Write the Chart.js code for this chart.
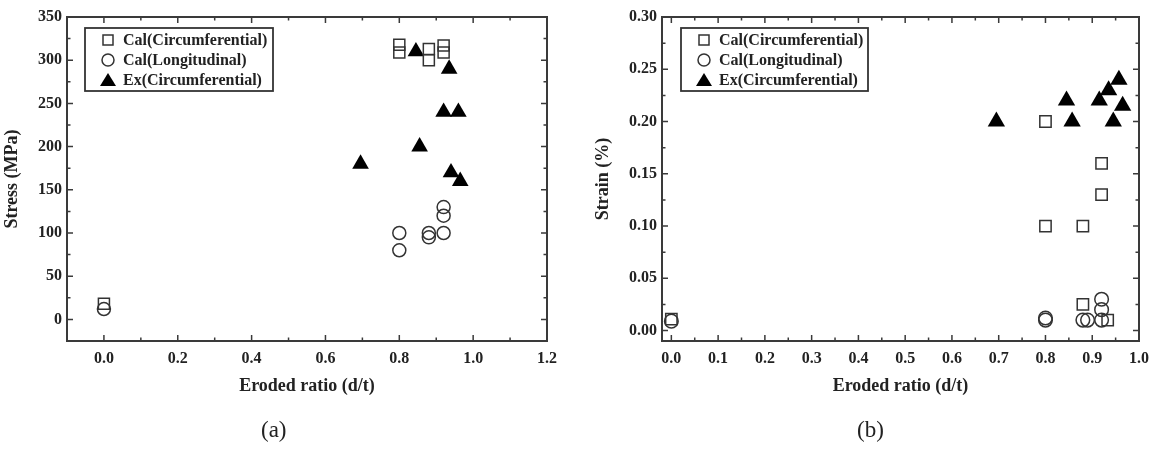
<!DOCTYPE html>
<html>
<head>
<meta charset="utf-8">
<script src="https://cdn.jsdelivr.net/npm/chart.js"></script>
<style>
body { margin: 0; background: #fff; width: 1157px; height: 452px; position: relative; overflow: hidden; }
canvas { position: absolute; top: 0; }
#chartA { left: 0; }
#chartB { left: 578px; }
.cap { position: absolute; top: 417px; font: 23px "Liberation Serif", serif; color: #222; }
</style>
</head>
<body>
<canvas id="chartA" width="578" height="452"></canvas>
<canvas id="chartB" width="579" height="452"></canvas>
<div class="cap" style="left:261px">(a)</div>
<div class="cap" style="left:857px">(b)</div>
<script>
var seriesNames = ["Cal(Circumferential)", "Cal(Longitudinal)", "Ex(Circumferential)"];

// (a) stress vs eroded ratio
var stressCalCircX = [0, 0.8, 0.8, 0.88, 0.88, 0.92, 0.92];
var stressCalCircY = [18, 318, 309, 313, 300, 317, 309];
var stressCalLongX = [0, 0.8, 0.8, 0.88, 0.88, 0.92, 0.92, 0.92];
var stressCalLongY = [12, 100, 80, 100, 95, 130, 120, 100];
var stressExX = [0.695, 0.845, 0.855, 0.92, 0.935, 0.94, 0.96, 0.965];
var stressExY = [180, 310, 200, 240, 290, 170, 240, 160];

// (b) strain vs eroded ratio
var strainCalCircX = [0, 0.8, 0.8, 0.88, 0.88, 0.92, 0.92, 0.933];
var strainCalCircY = [0.011, 0.20, 0.10, 0.10, 0.025, 0.16, 0.13, 0.01];
var strainCalLongX = [0, 0.8, 0.8, 0.88, 0.89, 0.92, 0.92, 0.92];
var strainCalLongY = [0.009, 0.012, 0.01, 0.01, 0.01, 0.01, 0.02, 0.03];
var strainExX = [0.695, 0.845, 0.857, 0.915, 0.935, 0.945, 0.957, 0.965];
var strainExY = [0.20, 0.22, 0.20, 0.22, 0.23, 0.20, 0.24, 0.215];

// tick labels
var stressXTicks = [0, 0.2, 0.4, 0.6, 0.8, 1.0, 1.2];
var stressYTicks = [0, 50, 100, 150, 200, 250, 300, 350];
var strainXTicks = [0, 0.1, 0.2, 0.3, 0.4, 0.5, 0.6, 0.7, 0.8, 0.9, 1.0];
var strainYTicks = [0, 0.05, 0.10, 0.15, 0.20, 0.25, 0.30];

var ink = '#222';
var serif = 'Liberation Serif';

function pts(xs, ys) {
    return xs.map(function (x, i) { return { x: x, y: ys[i] }; });
}

function minorsOf(majors, min, max) {
    var step = majors[1] - majors[0], out = [];
    for (var v = majors[0] - step / 2; v <= max + 1e-9; v += step) {
        if (v >= min - 1e-9) out.push(v);
    }
    return out;
}

// box frame with inward ticks on all four sides
var frameTicks = {
    id: 'frameTicks',
    afterDatasetsDraw: function (chart) {
        var ctx = chart.ctx, a = chart.chartArea, sx = chart.scales.x, sy = chart.scales.y;
        ctx.save();
        ctx.strokeStyle = '#3a3a3a';
        ctx.lineWidth = 1.5;
        function xt(vals, len) {
            vals.forEach(function (v) {
                var p = sx.getPixelForValue(v);
                ctx.beginPath();
                ctx.moveTo(p, a.bottom); ctx.lineTo(p, a.bottom - len);
                ctx.moveTo(p, a.top); ctx.lineTo(p, a.top + len);
                ctx.stroke();
            });
        }
        function yt(vals, len) {
            vals.forEach(function (v) {
                var p = sy.getPixelForValue(v);
                ctx.beginPath();
                ctx.moveTo(a.left, p); ctx.lineTo(a.left + len, p);
                ctx.moveTo(a.right, p); ctx.lineTo(a.right - len, p);
                ctx.stroke();
            });
        }
        var xm = sx.ticks.map(function (t) { return t.value; });
        var ym = sy.ticks.map(function (t) { return t.value; });
        xt(xm, 6); yt(ym, 6);
        xt(minorsOf(xm, sx.min, sx.max), 3.5);
        yt(minorsOf(ym, sy.min, sy.max), 3.5);
        ctx.lineWidth = 2;
        ctx.strokeRect(a.left, a.top, a.right - a.left, a.bottom - a.top);
        ctx.restore();
    }
};

function marker(ctx, style, cx, cy) {
    ctx.lineWidth = 1.5;
    ctx.strokeStyle = '#333';
    ctx.fillStyle = '#000';
    if (style === 'rect') {
        ctx.strokeRect(cx - 5, cy - 5, 10, 10);
    } else if (style === 'circle') {
        ctx.beginPath(); ctx.arc(cx, cy, 6, 0, Math.PI * 2); ctx.stroke();
    } else {
        ctx.beginPath();
        ctx.moveTo(cx, cy - 7); ctx.lineTo(cx + 8, cy + 6); ctx.lineTo(cx - 8, cy + 6);
        ctx.closePath(); ctx.fill();
    }
}

// legend inside the plot, with a border
var boxLegend = {
    id: 'boxLegend',
    afterDraw: function (chart, args, o) {
        var ctx = chart.ctx;
        ctx.save();
        ctx.fillStyle = '#fff';
        ctx.fillRect(o.x, o.y, o.w, o.h);
        ctx.strokeStyle = '#333';
        ctx.lineWidth = 1.8;
        ctx.strokeRect(o.x, o.y, o.w, o.h);
        chart.data.datasets.forEach(function (ds, i) {
            var cy = o.y + 12 + i * 20;
            marker(ctx, ds.pointStyle, o.x + 23, cy);
            ctx.fillStyle = ink;
            ctx.font = 'bold 16px "' + serif + '"';
            ctx.textBaseline = 'middle';
            ctx.textAlign = 'left';
            ctx.fillText(ds.label, o.x + 38, cy + 1);
        });
        ctx.restore();
    }
};

function datasetsFor(cx, cy, lx, ly, ex, ey, big) {
    return [{
        label: seriesNames[0], data: pts(cx, cy), pointStyle: 'rect',
        pointRadius: big ? 8 : 7.8, borderColor: '#333', borderWidth: 1.5, backgroundColor: 'rgba(0,0,0,0)'
    }, {
        label: seriesNames[1], data: pts(lx, ly), pointStyle: 'circle',
        pointRadius: big ? 6.8 : 6.5, borderColor: '#333', borderWidth: 1.5, backgroundColor: 'rgba(0,0,0,0)'
    }, {
        label: seriesNames[2], data: pts(ex, ey), pointStyle: 'triangle',
        pointRadius: big ? 10 : 9.6, borderColor: '#000', borderWidth: 0, backgroundColor: '#000'
    }];
}

function opts(c) {
    return {
        responsive: false,
        animation: false,
        layout: { padding: { left: 0, right: c.padRight, top: 17, bottom: 50 } },
        plugins: {
            legend: { display: false },
            tooltip: { enabled: false },
            boxLegend: c.legend
        },
        scales: {
            x: {
                type: 'linear', min: c.xmin, max: c.xmax,
                afterBuildTicks: function (s) { s.ticks = c.xticks.map(function (v) { return { value: v }; }); },
                afterFit: function (s) { s.height = 61; },
                grid: { display: false, drawTicks: false },
                border: { display: false },
                ticks: {
                    autoSkip: false, maxRotation: 0, padding: 8, color: ink,
                    font: { family: serif, size: 16, weight: 'bold' },
                    callback: function (v) { return Number(v).toFixed(1); }
                },
                title: {
                    display: true, text: 'Eroded ratio (d/t)', color: ink,
                    font: { family: serif, size: 18, weight: 'bold' },
                    padding: { top: 0, bottom: 5 }
                }
            },
            y: {
                type: 'linear', min: c.ymin, max: c.ymax,
                afterBuildTicks: function (s) { s.ticks = c.yticks.map(function (v) { return { value: v }; }); },
                afterFit: function (s) { s.width = c.yWidth; },
                grid: { display: false, drawTicks: false },
                border: { display: false },
                ticks: {
                    autoSkip: false, padding: 5, color: ink,
                    font: { family: serif, size: 16, weight: 'bold' },
                    callback: function (v) { return Number(v).toFixed(c.yDec); }
                },
                title: {
                    display: true, text: c.ytitle, color: ink,
                    font: { family: serif, size: 18, weight: 'bold' },
                    padding: { top: c.yTitlePad, bottom: 0 }
                }
            }
        }
    };
}

new Chart(document.getElementById('chartA'), {
    type: 'scatter',
    data: { datasets: datasetsFor(stressCalCircX, stressCalCircY, stressCalLongX, stressCalLongY, stressExX, stressExY, false) },
    options: opts({
        padRight: 31, yWidth: 67, yTitlePad: 2, yDec: 0,
        xmin: -0.1, xmax: 1.2, ymin: -25, ymax: 350,
        xticks: stressXTicks, yticks: stressYTicks, ytitle: 'Stress (MPa)',
        legend: { x: 85, y: 28, w: 188, h: 63 }
    }),
    plugins: [frameTicks, boxLegend]
});

new Chart(document.getElementById('chartB'), {
    type: 'scatter',
    data: { datasets: datasetsFor(strainCalCircX, strainCalCircY, strainCalLongX, strainCalLongY, strainExX, strainExY, true) },
    options: opts({
        padRight: 14, yWidth: 84, yTitlePad: 15, yDec: 2,
        xmin: -0.02, xmax: 1.0, ymin: -0.01, ymax: 0.30,
        xticks: strainXTicks, yticks: strainYTicks, ytitle: 'Strain (%)',
        legend: { x: 103, y: 28, w: 187, h: 63 }
    }),
    plugins: [frameTicks, boxLegend]
});
</script>
</body>
</html>
